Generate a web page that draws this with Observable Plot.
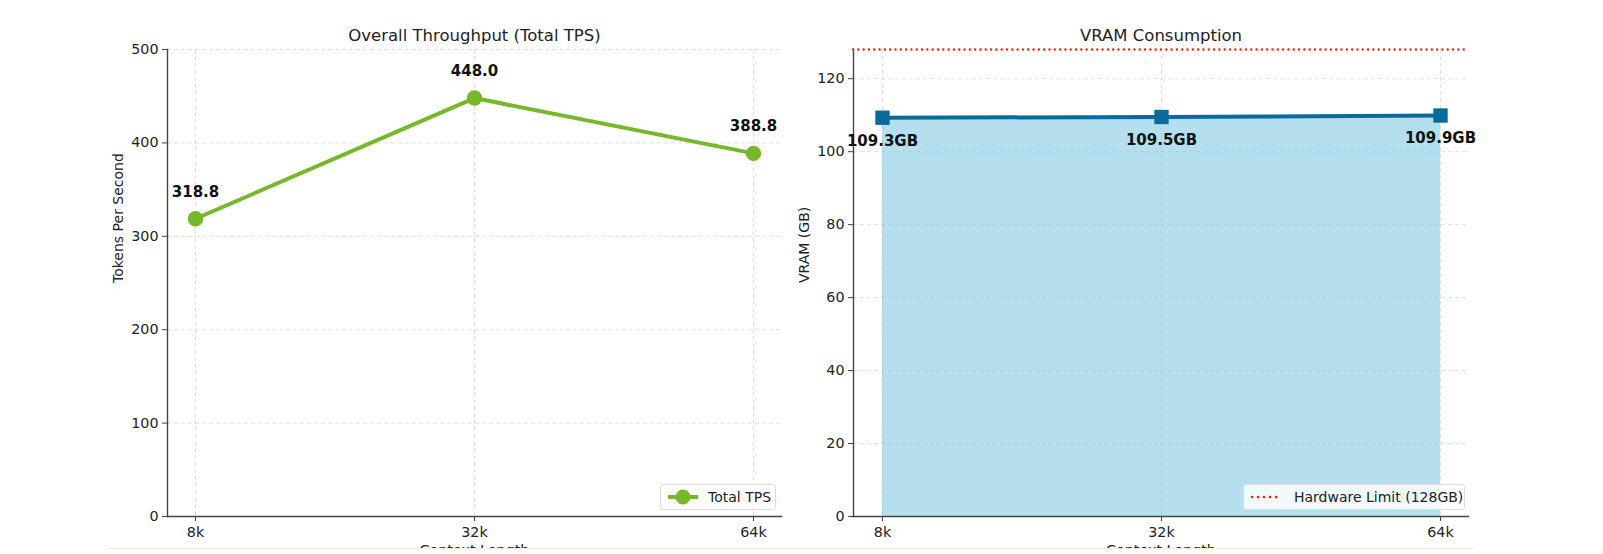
<!DOCTYPE html>
<html>
<head>
<meta charset="utf-8">
<script src="https://cdn.jsdelivr.net/npm/d3@7"></script>
<script src="https://cdn.jsdelivr.net/npm/@observablehq/plot@0.6"></script>
<style>
  html, body { margin: 0; padding: 0; background: #fff; overflow: hidden; }
  #wrap { position: relative; width: 1603px; height: 554px; overflow: hidden; font-family: "DejaVu Sans", sans-serif; }
  .panel { position: absolute; top: 0; overflow: hidden; height: 548px; }
  .legend { position: absolute; display: flex; align-items: center; white-space: nowrap; background: rgba(255,255,255,0.8); border: 1px solid #ddd; border-radius: 3px; font-size: 14px; color: #222; box-sizing: border-box; height: 26px; padding: 0 6px; }
  #crop { position: absolute; left: 107px; top: 548px; width: 1367px; height: 1px; background: #efeedc; }
</style>
</head>
<body>
<div id="wrap">
  <div class="panel" id="p1" style="left:0px;width:820px"></div>
  <div class="panel" id="p2" style="left:720px;width:800px"></div>
  <div class="legend" style="left:660px;top:484px;width:116px;">
    <svg width="32" height="18" style="margin-right:9px;flex:none"><line x1="1" y1="9" x2="31" y2="9" stroke="#76b82a" stroke-width="4"/><circle cx="16" cy="9" r="7.5" fill="#76b82a"/></svg><span>Total TPS</span>
  </div>
  <div class="legend" style="left:1243px;top:484px;width:222px;">
    <svg width="30" height="16" style="margin-right:14px;flex:none"><line x1="2" y1="8" x2="30" y2="8" stroke="#ff1a1a" stroke-width="2.6" stroke-dasharray="0.01,6" stroke-linecap="round"/></svg><span>Hardware Limit (128GB)</span>
  </div>
  <div id="crop"></div>
</div>
<script>
const contexts = ["8k", "32k", "64k"];
const tps = [318.8, 448.0, 388.8];
const vram = [109.3, 109.5, 109.9];
const hardwareLimit = 128;
const tpsTicks = [0, 100, 200, 300, 400, 500];
const vramTicks = [0, 20, 40, 60, 80, 100, 120];

const tpsData = contexts.map((c, i) => ({context: c, value: tps[i]}));
const vramData = contexts.map((c, i) => ({context: c, value: vram[i]}));

const grid = {stroke: "#b0b0b0", strokeOpacity: 0.4, strokeDasharray: "4,3"};
const tickFont = 14.3;

const chart1 = Plot.plot({
  width: 820, height: 554,
  marginLeft: 167, marginRight: 39, marginTop: 49, marginBottom: 38,
  style: {fontFamily: "DejaVu Sans, sans-serif", fontSize: "14px", color: "#222", background: "transparent"},
  x: {type: "point", domain: contexts, padding: 0.1},
  y: {domain: [0, 500]},
  marks: [
    Plot.gridY(tpsTicks, grid),
    Plot.gridX(contexts, grid),
    Plot.frame({anchor: "left", stroke: "#444", strokeWidth: 1.4}),
    Plot.frame({anchor: "bottom", stroke: "#444", strokeWidth: 1.4}),
    Plot.axisY(tpsTicks, {tickSize: 5, tickPadding: 4, stroke: "#444", fontSize: tickFont, label: null}),
    Plot.axisX(contexts, {tickSize: 5, tickPadding: 5, stroke: "#444", fontSize: tickFont, label: null}),
    Plot.text(["Tokens Per Second"], {frameAnchor: "left", rotate: -90, dx: -49, fontSize: 14, fill: "#222"}),
    Plot.text(["Context Length"], {frameAnchor: "bottom", dy: 38, fontSize: 14.3, fill: "#222"}),
    Plot.text(["Overall Throughput (Total TPS)"], {frameAnchor: "top", dy: -20, fontSize: 16.5, fill: "#222"}),
    Plot.line(tpsData, {x: "context", y: "value", stroke: "#76b82a", strokeWidth: 4}),
    Plot.dot(tpsData, {x: "context", y: "value", r: 7.7, fill: "#76b82a"}),
    Plot.text(tpsData, {x: "context", y: "value", text: d => d.value.toFixed(1), dy: -27, fontSize: 15, fontWeight: "bold", fill: "#111"})
  ]
});
document.getElementById("p1").appendChild(chart1);

const chart2 = Plot.plot({
  width: 800, height: 554,
  marginLeft: 133, marginRight: 52, marginTop: 49, marginBottom: 38,
  style: {fontFamily: "DejaVu Sans, sans-serif", fontSize: "14px", color: "#222", background: "transparent"},
  x: {type: "point", domain: contexts, padding: 0.1},
  y: {domain: [0, hardwareLimit]},
  marks: [
    Plot.areaY(vramData, {x: "context", y: "value", fill: "#b3dfee"}),
    Plot.gridY(vramTicks, grid),
    Plot.gridX(contexts, grid),
    Plot.frame({anchor: "left", stroke: "#444", strokeWidth: 1.4}),
    Plot.frame({anchor: "bottom", stroke: "#444", strokeWidth: 1.4}),
    Plot.axisY(vramTicks, {tickSize: 5, tickPadding: 4, stroke: "#444", fontSize: tickFont, label: null}),
    Plot.axisX(contexts, {tickSize: 5, tickPadding: 5, stroke: "#444", fontSize: tickFont, label: null}),
    Plot.text(["VRAM (GB)"], {frameAnchor: "left", rotate: -90, dx: -49, fontSize: 14, fill: "#222"}),
    Plot.text(["Context Length"], {frameAnchor: "bottom", dy: 38, fontSize: 14.3, fill: "#222"}),
    Plot.text(["VRAM Consumption"], {frameAnchor: "top", dy: -20, fontSize: 16.5, fill: "#222"}),
    Plot.ruleY([hardwareLimit], {stroke: "#ff1a1a", strokeWidth: 2.4, strokeDasharray: "0.01,5.3", strokeLinecap: "round"}),
    Plot.line(vramData, {x: "context", y: "value", stroke: "#0a6a9c", strokeWidth: 4}),
    Plot.dot(vramData, {x: "context", y: "value", symbol: "square", r: 8.1, fill: "#0a6a9c"}),
    Plot.text(vramData, {x: "context", y: "value", text: d => d.value.toFixed(1) + "GB", dy: 23, fontSize: 15, fontWeight: "bold", fill: "#111"})
  ]
});
document.getElementById("p2").appendChild(chart2);
</script>
</body>
</html>
